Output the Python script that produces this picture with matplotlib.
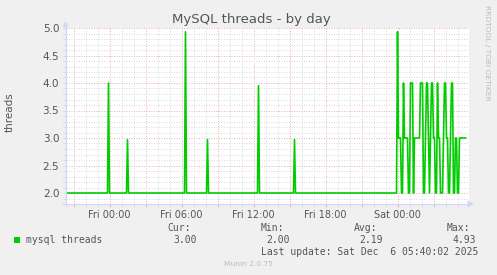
import pandas as pd
import matplotlib
matplotlib.use("Agg")
import matplotlib.pyplot as plt
import matplotlib.dates as mdates
from matplotlib.ticker import MultipleLocator, FuncFormatter
from matplotlib.patches import Polygon, Rectangle
from matplotlib.lines import Line2D

W, H = 497, 275

# quiet period: baseline of 2 threads with a few single-sample spikes
spike_times = ["2025-12-04 23:55", "2025-12-05 01:30", "2025-12-05 06:20",
               "2025-12-05 08:10", "2025-12-05 12:25", "2025-12-05 15:25"]
spike_values = [4.00, 2.97, 4.93, 2.97, 3.95, 2.97]
base_value = 2.0

# busy period, one sample every 5 minutes from Sat 00:00
sat_start = "2025-12-06 00:00"
sat_values = [4.93, 3, 3, 3, 2, 2, 4, 3, 3, 3, 3, 2, 2, 4, 4, 4, 2,
              3, 3, 3, 3, 3, 3, 4, 4, 4, 2, 2, 3, 4, 4, 3, 2, 3, 4, 4,
              3, 3, 2, 2, 4, 3, 3, 2, 2, 2, 3, 4, 4, 3, 3, 2, 2, 3, 4,
              4, 2, 2, 3, 3, 2, 2, 3, 3, 3, 3, 3, 3, 3]

x_start = "2025-12-04 20:20"
x_end = "2025-12-06 05:55"

legend_label = "mysql threads"
stats_names = ["Cur:", "Min:", "Avg:", "Max:"]
stats_values = ["3.00", "2.00", "2.19", "4.93"]
last_update = "Last update: Sat Dec  6 05:40:02 2025"

LINE = "#00cc00"
FONT = "#555555"
AXIS = "#cfd6f8"
MGRID = "#ecb4b4"
GRID = "#dcdcdc"


def px(x, y):
    """pixel coords (top-left origin) -> figure fraction"""
    return x / W, 1 - y / H


def build_series():
    step = pd.Timedelta(minutes=5)
    t = [pd.Timestamp(x_start)]
    v = [base_value]
    for ts, val in zip(spike_times, spike_values):
        ts = pd.Timestamp(ts)
        t += [ts - step, ts, ts + step]
        v += [base_value, val, base_value]
    t0 = pd.Timestamp(sat_start)
    t.append(t0 - step)
    v.append(base_value)
    t += [t0 + i * step for i in range(len(sat_values))]
    v += sat_values
    return t, v


fig = plt.figure(figsize=(W / 100, H / 100), dpi=100, facecolor="#f0f0f0")
left, top, right, bottom = 65.5, 28, 468.5, 204
ax = fig.add_axes([left / W, 1 - bottom / H, (right - left) / W, (bottom - top) / H])
ax.set_facecolor("white")

times, values = build_series()
ax.plot(times, values, color=LINE, lw=1.2, zorder=3)

ax.set_xlim(pd.Timestamp(x_start), pd.Timestamp(x_end))
ax.set_ylim(1.8, 5.0)

ax.xaxis.set_major_locator(mdates.HourLocator(byhour=range(0, 24, 3)))
ax.xaxis.set_minor_locator(mdates.HourLocator())


def fmt_hour(x, pos):
    d = mdates.num2date(x)
    return d.strftime("%a %H:%M") if d.hour % 6 == 0 else ""


ax.xaxis.set_major_formatter(FuncFormatter(fmt_hour))
ax.yaxis.set_major_locator(MultipleLocator(0.5))
ax.yaxis.set_minor_locator(MultipleLocator(0.1))
ax.yaxis.set_major_formatter(FuncFormatter(lambda y, p: "%.1f" % y))

ax.grid(which="major", color=MGRID, lw=0.72, linestyle=(0, (1, 1.5)))
ax.grid(which="minor", color=GRID, lw=0.72, linestyle=(0, (1, 1.5)))
ax.set_axisbelow(True)

ax.tick_params(which="major", axis="x", length=2, width=0.72, color=MGRID,
               labelsize=7, labelcolor=FONT, pad=2)
ax.tick_params(which="minor", axis="x", length=2, width=0.72, color=GRID)
ax.tick_params(which="both", axis="y", length=2, width=0.72, color=AXIS,
               labelsize=7.5, labelcolor=FONT, pad=2.5)

for s in ax.spines.values():
    s.set_visible(False)

# axis lines with arrows
x0, y0 = px(left, 206)
x1, y1 = px(left, 23)
fig.add_artist(Line2D([x0, x1], [y0, y1], color=AXIS, lw=0.8))
x0, y0 = px(62, bottom)
x1, y1 = px(469, bottom)
fig.add_artist(Line2D([x0, x1], [y0, y1], color=AXIS, lw=0.8))
fig.add_artist(Polygon([px(left - 3, 27), px(left + 3, 27), px(left, 21.5)],
                       closed=True, color=AXIS, lw=0))
fig.add_artist(Polygon([px(467.5, bottom - 3.5), px(467.5, bottom + 3.5), px(474, bottom)],
                       closed=True, color=AXIS, lw=0))

fig.text(*px(251, 23.5), "MySQL threads - by day", fontsize=9.5, color=FONT,
         ha="center", va="baseline")
fig.text(*px(10, 112), "threads", fontsize=7.5, color=FONT, rotation=90,
         ha="center", va="center")
fig.text(*px(487, 53), "RRDTOOL / TOBI OETIKER", fontsize=5.4, color="#bbbbbb",
         rotation=270, ha="center", va="center")

# legend block
fig.add_artist(Rectangle(px(13.5, 243), 6 / W, 6 / H, color=LINE, lw=0))
mono = dict(family="DejaVu Sans Mono", fontsize=7, color=FONT, va="baseline")
fig.text(*px(26, 243), legend_label, **mono)
for i, (name, val) in enumerate(zip(stats_names, stats_values)):
    xs = 167.3 + i * 93.1
    fig.text(*px(xs, 231), name, **mono)
    fig.text(*px(xs + 6, 243), val, **mono)
fig.text(*px(261.3, 255), last_update, **mono)
fig.text(*px(248, 266.5), "Munin 2.0.75", fontsize=5.4, color="#bbbbbb",
         ha="center", va="baseline")

fig.savefig("out.png", dpi=100, facecolor=fig.get_facecolor())
